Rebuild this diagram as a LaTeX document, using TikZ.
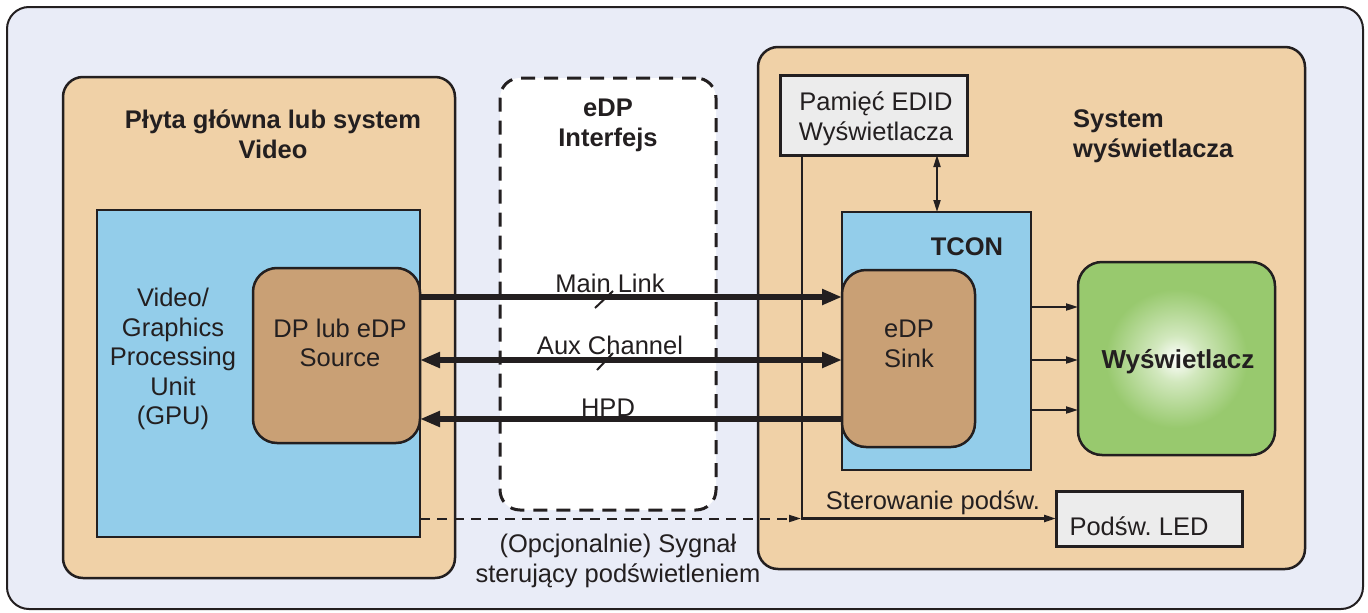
\documentclass[tikz,border=0pt]{standalone}
\usepackage{fontspec}
\setmainfont{Liberation Sans}
\usetikzlibrary{arrows.meta}
\frenchspacing

\definecolor{bgpanel}{RGB}{233,236,247}
\definecolor{tanfill}{RGB}{240,209,167}
\definecolor{chipblue}{RGB}{147,205,234}
\definecolor{chipbrown}{RGB}{201,160,117}
\definecolor{scrgreen}{RGB}{152,201,110}
\definecolor{scrlight}{RGB}{210,232,190}
\definecolor{memgray}{RGB}{236,236,236}
\definecolor{ink}{RGB}{35,31,32}

\pgfdeclareradialshading{screenglow}{\pgfpoint{0bp}{0bp}}{%
  color(0bp)=(white);
  color(6bp)=(scrlight);
  color(18bp)=(scrgreen);
  color(50bp)=(scrgreen)}

\begin{document}
\begin{tikzpicture}[x=1pt,y=-1pt,
  box/.style={draw=ink, line width=2.5pt, inner sep=0pt, outer sep=0pt},
  panel/.style={box, fill=tanfill, rounded corners=20pt},
  chip/.style={box, fill=chipblue},
  core/.style={box, fill=chipbrown, rounded corners=24pt},
  memo/.style={box, fill=memgray, line width=3pt},
  txt/.style={text=ink, font=\fontsize{25.5}{29.5}\selectfont, align=center, inner sep=0pt},
  bold/.style={text=ink, font=\fontsize{25.5}{30}\selectfont\bfseries, align=center, inner sep=0pt},
  bigtip/.tip={Triangle[length=20pt,width=15pt]},
  smalltip/.tip={Triangle[length=12pt,width=7pt]},
  busline/.style={draw=ink, line width=6pt},
  sigline/.style={draw=ink, line width=2pt},
]
\useasboundingbox (0,0) rectangle (1368,613);

% background panel
\node[draw=ink, line width=2pt, fill=bgpanel, rounded corners=22pt,
      minimum width=1356pt, minimum height=602pt, inner sep=0pt] (frame) at (685,308) {};

% source side
\node[panel, minimum width=392pt, minimum height=501pt] (board) at (259,327.5) {};
\node[chip, minimum width=323pt, minimum height=327pt] (gpu) at (258.5,373.5) {};
\node[core, minimum width=167pt, minimum height=175pt] (source) at (336.5,355.5) {};

% interface region
\node[draw=ink, line width=3pt, dash pattern=on 14pt off 9pt, fill=white,
      rounded corners=20pt, minimum width=216pt, minimum height=432pt, inner sep=0pt]
      (iface) at (608,294) {};

% display side
\node[panel, minimum width=547pt, minimum height=522pt] (dispsys) at (1031.5,308) {};
\node[memo, minimum width=187pt, minimum height=80pt] (edid) at (873.5,115) {};
\node[chip, minimum width=189pt, minimum height=258pt] (tcon) at (936.5,341) {};
\node[core, minimum width=133pt, minimum height=177pt] (sink) at (908.5,358.5) {};
\node[box, shading=screenglow, rounded corners=24pt,
      minimum width=197pt, minimum height=193pt] (display) at (1176.5,358.5) {};
\node[memo, minimum width=186pt, minimum height=55pt] (led) at (1149,518.5) {};

% texts
\node[bold] (boardtitle) at (273,134) {Płyta główna lub system\\Video};
\node[txt] (gputext) at (173,359) {Video/\\Graphics\\Processing\\Unit\\(GPU)};
\node[txt] (srctext) at (340,343) {DP lub eDP\\Source};
\node[bold] (ifacetitle) at (608,125) {eDP\\Interfejs};
\node[txt] (edidtext) at (876,119) {Pamięć EDID\\Wyświetlacza};
\node[bold, align=left, anchor=west] (systitle) at (1073,136) {System\\wyświetlacza};
\node[bold] (tcontext) at (967,247) {TCON};
\node[txt] (sinktext) at (909,344) {eDP\\Sink};
\node[bold, font=\fontsize{26}{30}\selectfont\bfseries] (disptext) at (1178,362) {Wyświetlacz};
\node[txt] (ledtext) at (1139,526) {Podśw. LED};
\node[txt] (ctltext) at (933,503) {Sterowanie podśw.};
\node[txt] (opttext) at (618,561) {(Opcjonalnie) Sygnał\\sterujący podświetleniem};
\node[txt] (mainlbl) at (610,283) {Main Link};
\node[txt] (auxlbl) at (610,345) {Aux Channel};
\node[txt] (hpdlbl) at (608,408) {HPD};

% guide coordinates for the connector rows and columns
\coordinate (rowmain) at (0,297);
\coordinate (rowaux) at (0,360);
\coordinate (rowhpd) at (0,419);
\coordinate (rowA) at (0,307);
\coordinate (rowB) at (0,360);
\coordinate (rowC) at (0,410);
\coordinate (colbl) at (802,0);
\coordinate (coledid) at (937,0);

% backlight control
\draw[draw=ink, line width=2.5pt, -{smalltip}] (edid.south -| colbl) |- (led.west);
\draw[sigline, dash pattern=on 10pt off 7pt, -{smalltip}] (gpu.east |- led.west) -- ([xshift=-1pt]colbl |- led.west);

% EDID access
\draw[sigline, {smalltip}-{smalltip}] (edid.south -| coledid) -- (tcon.north -| coledid);

% link lanes
\draw[busline, -{bigtip}] (source.east |- rowmain) -- (sink.west |- rowmain);
\draw[busline, {bigtip}-{bigtip}] (source.east |- rowaux) -- (sink.west |- rowaux);
\draw[busline, -{bigtip}] (sink.west |- rowhpd) -- (source.east |- rowhpd);

% multi-lane marks
\coordinate (tickA1) at (595,308);
\coordinate (tickA2) at (613,291);
\coordinate (tickB1) at (597,370);
\coordinate (tickB2) at (613,353);
\draw[sigline] (tickA1) -- (tickA2);
\draw[sigline] (tickB1) -- (tickB2);

% panel drive
\draw[sigline, -{smalltip}] (tcon.east |- rowA) -- (display.west |- rowA);
\draw[sigline, -{smalltip}] (tcon.east |- rowB) -- (display.west |- rowB);
\draw[sigline, -{smalltip}] (tcon.east |- rowC) -- (display.west |- rowC);
\end{tikzpicture}
\end{document}
